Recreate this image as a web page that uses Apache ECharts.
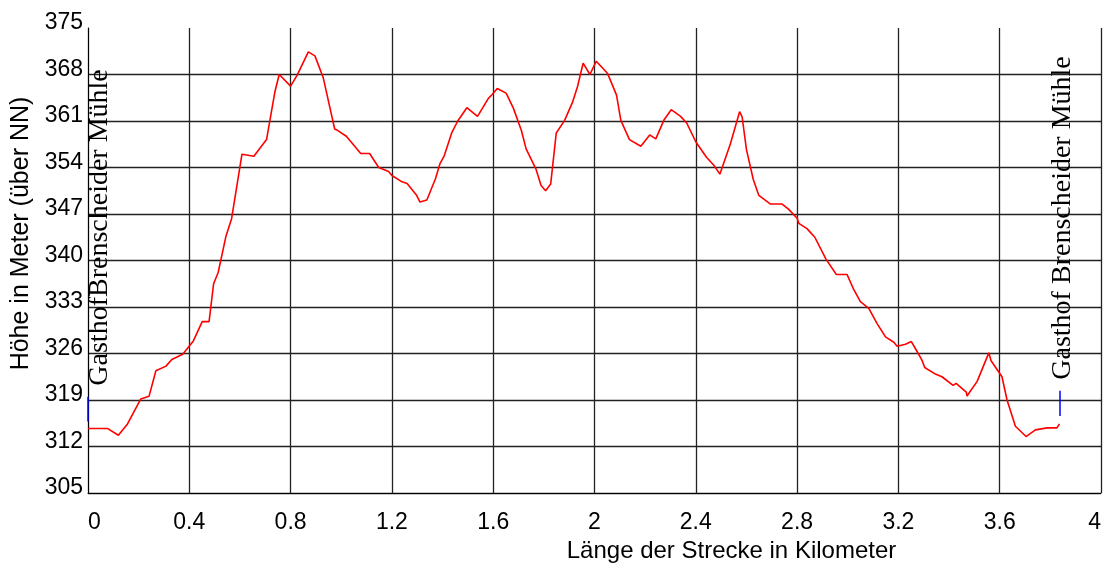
<!DOCTYPE html>
<html>
<head>
<meta charset="utf-8">
<script src="https://cdn.jsdelivr.net/npm/echarts@6/dist/echarts.min.js"></script>
<style>
html,body{margin:0;padding:0;background:#fff;}
#chart{width:1104px;height:573px;}
</style>
</head>
<body>
<div id="chart"></div>
<script>
// distance along route (km)
const distanceKm = [
 0.000,0.078,0.120,0.156,0.208,0.241,0.268,0.308,0.331,0.374,0.416,0.451,0.478,0.496,0.514,0.545,0.567,0.608,0.655,0.705,
 0.738,0.755,0.800,0.826,0.870,0.896,0.929,0.974,0.985,1.020,1.077,1.112,1.148,1.187,1.200,1.237,1.260,1.296,1.311,1.338,
 1.372,1.390,1.407,1.437,1.460,1.496,1.538,1.581,1.596,1.616,1.651,1.680,1.711,1.730,1.769,1.789,1.807,1.827,1.849,1.882,
 1.913,1.933,1.955,1.982,2.007,2.051,2.087,2.104,2.138,2.183,2.218,2.242,2.275,2.303,2.340,2.364,2.401,2.443,2.472,2.495,
 2.537,2.573,2.583,2.600,2.627,2.649,2.695,2.741,2.767,2.800,2.807,2.839,2.870,2.914,2.955,2.997,3.024,3.050,3.083,3.116,
 3.149,3.182,3.195,3.228,3.251,3.267,3.293,3.304,3.346,3.372,3.416,3.428,3.468,3.471,3.511,3.557,3.566,3.609,3.629,3.662,
 3.704,3.741,3.787,3.826,3.836
];
// elevation (m above NN)
const elevationM = [
 314.7,314.7,313.7,315.4,319.15,319.55,323.4,324.1,325.1,325.9,327.9,330.8,330.8,336.5,338.2,343.7,346.3,356.0,355.7,358.2,
 365.4,368.0,366.25,367.9,371.4,370.8,367.5,359.8,359.6,358.7,356.1,356.1,354.0,353.4,352.8,351.9,351.6,349.9,348.8,349.1,
 352.3,354.6,355.8,359.3,361.0,363.0,361.7,364.4,365.0,365.9,365.2,362.9,359.6,356.8,353.75,351.3,350.5,351.5,359.2,361.1,
 363.8,366.2,369.7,368.0,370.0,368.2,364.9,361.1,358.2,357.2,358.9,358.3,361.2,362.7,361.7,360.7,357.8,355.5,354.3,353.0,
 357.6,362.4,361.6,356.7,352.2,349.8,348.5,348.5,347.7,346.35,345.6,344.8,343.5,340.2,337.9,337.9,335.6,333.8,332.8,330.5,
 328.5,327.7,327.1,327.4,327.8,326.75,325.0,323.9,322.9,322.5,321.2,321.5,320.2,319.6,321.8,326.1,324.9,322.5,319.0,315.05,
 313.5,314.5,314.8,314.8,315.4
];
// place markers: [km, elevation low, elevation high]
const placeNames = ["GasthofBrenscheider Mühle", "Gasthof Brenscheider Mühle"];
const placeKm = [0, 3.836];
const placeLow = [315.75, 316.6];
const placeHigh = [319.5, 320.4];

const yMin = 305, yMax = 375, yStep = 7;
const xMin = 0, xMax = 4, xStep = 0.4;
const xTitle = "Länge der Strecke in Kilometer";
const yTitle = "Höhe in Meter (über NN)";

const lineData = distanceKm.map((d, i) => [d, elevationM[i]]);
const markData = placeKm.map((k, i) => [{coord: [k, placeLow[i]]}, {coord: [k, placeHigh[i]]}]);

const chart = echarts.init(document.getElementById('chart'), null, {renderer: 'canvas'});
const sans = 'Liberation Sans, Arial, sans-serif';
chart.setOption({
  animation: false,
  backgroundColor: '#fff',
  grid: {left: 88, right: 2, top: 28, bottom: 80},
  xAxis: {
    type: 'value', min: xMin, max: xMax, interval: xStep,
    name: xTitle, nameLocation: 'middle', nameGap: 44,
    nameTextStyle: {fontFamily: sans, fontSize: 24, color: '#000', padding: [0, 0, 0, 274]},
    axisLine: {show: true, lineStyle: {color: '#000', width: 1}},
    axisTick: {show: false},
    splitLine: {show: true, lineStyle: {color: '#222', width: 1.3}},
    axisLabel: {
      fontFamily: sans, fontSize: 23, color: '#000', margin: 18,
      alignMinLabel: 'left', alignMaxLabel: 'right',
      formatter: v => String(+v.toFixed(1))
    }
  },
  yAxis: {
    type: 'value', min: yMin, max: yMax, interval: yStep,
    name: yTitle, nameLocation: 'middle', nameGap: 43, nameRotate: 90,
    nameTextStyle: {fontFamily: sans, fontSize: 25, color: '#000', padding: [0, 0, 0, 54]},
    axisLine: {show: true, lineStyle: {color: '#000', width: 1}},
    axisTick: {show: false},
    splitLine: {show: true, showMaxLine: false, lineStyle: {color: '#222', width: 1.3}},
    axisLabel: {fontFamily: sans, fontSize: 23, color: '#000', margin: 5, verticalAlign: 'bottom', lineHeight: 10}
  },
  series: [{
    type: 'line', data: lineData, symbol: 'none', clip: false,
    lineStyle: {color: '#ff0000', width: 1.6},
    markLine: {
      silent: true, symbol: 'none', label: {show: false},
      lineStyle: {color: '#0000ff', type: 'solid', width: 1.5},
      data: markData
    }
  }]
});

const offsets = [[11.6, -11], [3.5, -11]];
const texts = placeKm.map((k, i) => {
  const p = chart.convertToPixel({gridIndex: 0}, [k, placeHigh[i]]);
  return {
    type: 'text', x: p[0] + offsets[i][0], y: p[1] + offsets[i][1], rotation: Math.PI / 2,
    style: {text: placeNames[i], fontFamily: 'Liberation Serif, Times New Roman, serif', fontSize: 28,
            fill: '#000', align: 'left', verticalAlign: 'middle'}
  };
});
chart.setOption({graphic: texts});
</script>
</body>
</html>
